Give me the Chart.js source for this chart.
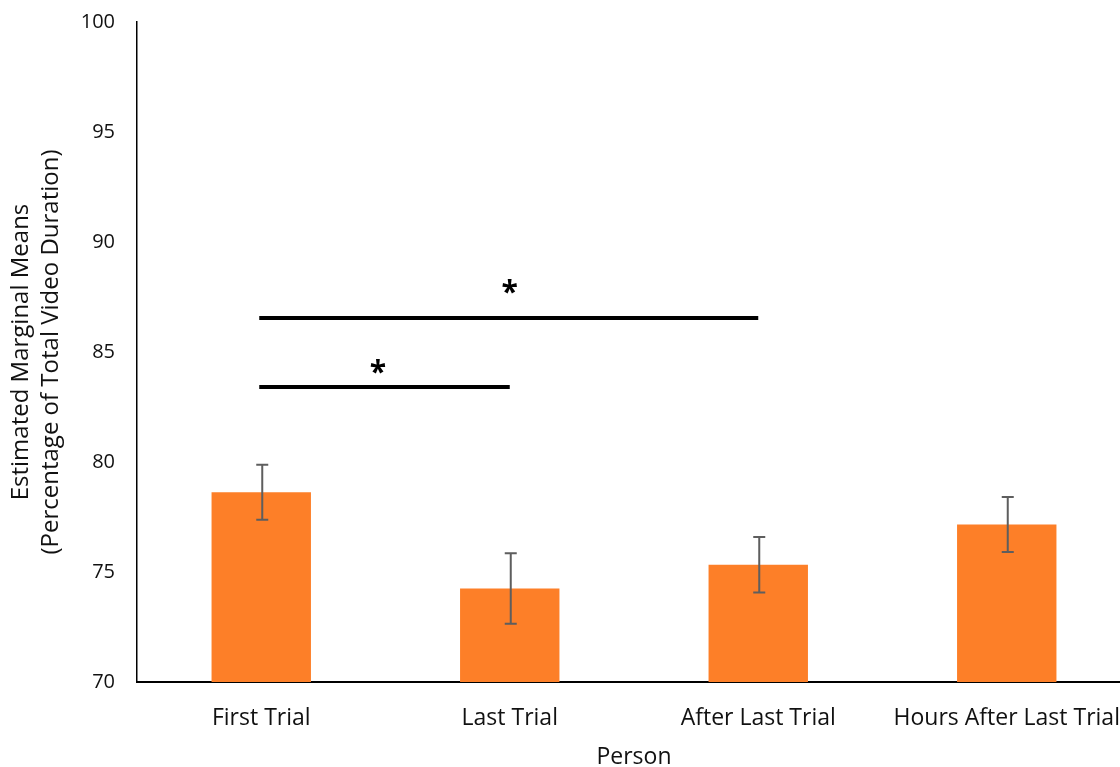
<!DOCTYPE html>
<html>
<head>
<meta charset="utf-8">
<title>Estimated Marginal Means by Person</title>
<script src="https://cdn.jsdelivr.net/npm/chart.js@4/dist/chart.umd.min.js"></script>
<style>
  html, body { margin: 0; padding: 0; background: #fff; overflow: hidden; }
  #wrap { width: 1120px; height: 767px; overflow: hidden; }
  canvas { display: block; }
</style>
</head>
<body>
<div id="wrap"><canvas id="chart" width="1131" height="767"></canvas></div>
<script>
// Categories and estimated marginal means with their error margins
const categories = ['First Trial', 'Last Trial', 'After Last Trial', 'Hours After Last Trial'];
const means = [78.62, 74.25, 75.33, 77.16];
const errors = [1.25, 1.6, 1.26, 1.25];

// Y axis range
const yMin = 70;
const yMax = 100;
const yStep = 5;

// Pairwise significance brackets (category indices) and their heights
const sigFrom = [0, 0];
const sigTo = [1, 2];
const sigLevel = [83.4, 86.55];
const sigMark = ['*', '*'];
const sigMarkLevel = [84.35, 87.98];
const sigMarkAt = [0.47, 1.0];

const FONT = "'Open Sans', 'Noto Sans', sans-serif";
const BAR_COLOR = '#FD7F28';
const ERR_COLOR = '#5E5E5E';

const overlay = {
  id: 'overlay',
  afterDatasetsDraw(chart) {
    const ctx = chart.ctx;
    const yScale = chart.scales.y;
    const xScale = chart.scales.x;
    const meta = chart.getDatasetMeta(0);

    // error bars
    ctx.save();
    ctx.strokeStyle = ERR_COLOR;
    ctx.lineWidth = 2;
    meta.data.forEach((bar, i) => {
      const x = bar.x + 1;
      const yHi = yScale.getPixelForValue(means[i] + errors[i]);
      const yLo = yScale.getPixelForValue(means[i] - errors[i]);
      ctx.beginPath();
      ctx.moveTo(x, yHi); ctx.lineTo(x, yLo);
      ctx.moveTo(x - 6, yHi); ctx.lineTo(x + 6, yHi);
      ctx.moveTo(x - 6, yLo); ctx.lineTo(x + 6, yLo);
      ctx.stroke();
    });
    ctx.restore();

    // significance brackets
    ctx.save();
    ctx.strokeStyle = '#000';
    ctx.lineWidth = 4;
    ctx.lineCap = 'butt';
    sigFrom.forEach((from, i) => {
      const x1 = xScale.getPixelForValue(from) - 2;
      const x2 = xScale.getPixelForValue(sigTo[i]);
      const y = Math.round(yScale.getPixelForValue(sigLevel[i]));
      ctx.beginPath();
      ctx.moveTo(x1, y); ctx.lineTo(x2, y);
      ctx.stroke();
    });
    ctx.fillStyle = '#000';
    ctx.font = 'bold 30px ' + FONT;
    ctx.textAlign = 'center';
    ctx.textBaseline = 'alphabetic';
    sigMark.forEach((mark, i) => {
      const x = xScale.getPixelForValue(sigMarkAt[i]);
      const y = yScale.getPixelForValue(sigMarkLevel[i]);
      const m = ctx.measureText(mark);
      const mid = (m.actualBoundingBoxAscent - m.actualBoundingBoxDescent) / 2;
      ctx.fillText(mark, x, y + mid);
    });
    ctx.restore();
  }
};

new Chart(document.getElementById('chart'), {
  type: 'bar',
  data: {
    labels: categories,
    datasets: [{
      data: means,
      backgroundColor: BAR_COLOR,
      borderWidth: 0,
      barPercentage: 0.4,
      categoryPercentage: 1.0
    }]
  },
  options: {
    responsive: false,
    animation: false,
    devicePixelRatio: 1,
    layout: { padding: { top: 22, right: 0, bottom: 0, left: 0 } },
    plugins: {
      legend: { display: false },
      tooltip: { enabled: false }
    },
    scales: {
      x: {
        grid: { display: false, drawTicks: false },
        border: { display: true, color: '#000', width: 2 },
        ticks: {
          color: '#111',
          font: { family: FONT, size: 23 },
          padding: 23,
          maxRotation: 0,
          autoSkip: false
        },
        title: {
          display: true,
          text: 'Person',
          color: '#111',
          font: { family: FONT, size: 23, lineHeight: 1 },
          padding: { top: 0, bottom: -2 }
        },
        afterFit(scale) {
          scale.height = 85;
          scale.paddingLeft = 0;
          scale.paddingRight = 0;
        }
      },
      y: {
        min: yMin,
        max: yMax,
        grid: { display: false, drawTicks: false },
        border: { display: true, color: '#000', width: 1.5 },
        ticks: {
          stepSize: yStep,
          color: '#111',
          font: { family: FONT, size: 20 },
          padding: 22
        },
        title: {
          display: true,
          text: ['Estimated Marginal Means', '(Percentage of Total Video Duration)'],
          color: '#111',
          font: { family: FONT, size: 24, lineHeight: 1.25 },
          padding: { top: 6, bottom: 0 }
        },
        afterFit(scale) {
          scale.width = 137;
          scale.paddingTop = 0;
          scale.paddingBottom = 0;
        }
      }
    }
  },
  plugins: [overlay]
});
</script>
</body>
</html>
